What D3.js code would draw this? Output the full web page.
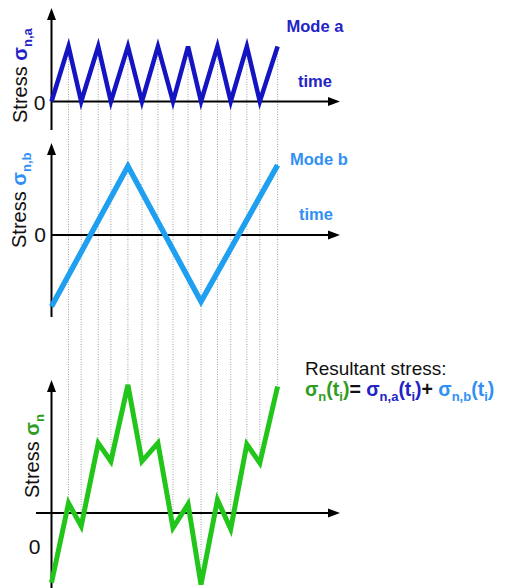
<!DOCTYPE html>
<html>
<head>
<meta charset="utf-8">
<script src="https://cdn.jsdelivr.net/npm/d3@7"></script>
<style>
  html, body { margin: 0; padding: 0; background: #fff; }
  svg { display: block; font-family: Arial, "Liberation Sans", sans-serif; }
</style>
</head>
<body>
<svg id="chart" width="507" height="588"></svg>
<script>
// Sampling instants t_i (turning points of mode a)
const times = [0, 1.13, 1.97, 3.10, 3.94, 5.07, 6.00, 7.06, 8.06, 9.06, 9.92, 11.01, 11.89, 12.96, 13.82, 15.0];
// Mode a: fast triangular stress cycle
const modeA = [0, 1, 0, 1, 0, 1, 0, 1, 0, 1, 0, 1, 0, 1, 0, 1];
// Mode b: slow triangular stress cycle (turning points only)
const modeBTimes = [0, 5.07, 9.92, 15.0];
const modeB = [-1.30, 1.25, -1.21, 1.27];
// Resultant stress at each t_i
const resultant = [-1.27, 0.18, -0.24, 1.27, 0.94, 2.33, 0.94, 1.27, -0.27, 0.16, -1.30, 0.24, -0.29, 1.25, 0.91, 2.30];

const svg = d3.select("#chart");

const x = d3.scaleLinear().domain([0, 19.14]).range([51.5, 340]);
const PX = 55; // pixels per stress unit, shared by all panels

function panelScale(zeroY, topY, bottomY) {
  return d3.scaleLinear()
    .domain([(zeroY - bottomY) / PX, (zeroY - topY) / PX])
    .range([bottomY, topY]);
}
const yA = panelScale(101.5, 8, 130);
const yB = panelScale(235, 143, 317);
const yR = panelScale(513, 380, 588);

// Dotted guides from each mode a turning point down to the resultant
const guides = svg.append("g");
times.forEach((t, i) => {
  if (i === 0) return;
  guides.append("line")
    .attr("x1", x(t)).attr("x2", x(t))
    .attr("y1", yA(modeA[i])).attr("y2", yR(resultant[i]))
    .attr("stroke", "#a0a0a0").attr("stroke-width", 1)
    .attr("stroke-dasharray", "1,1.5");
});

// Axes with arrowheads
function axes(y, xStart) {
  const g = svg.append("g");
  const [d0, d1] = y.domain();
  const xEnd = x.range()[1];
  g.append("line").attr("x1", xStart).attr("x2", xEnd - 9)
    .attr("y1", y(0)).attr("y2", y(0)).attr("stroke", "#000").attr("stroke-width", 2);
  g.append("path")
    .attr("d", `M${xEnd},${y(0)} L${xEnd - 12},${y(0) - 4.5} L${xEnd - 12},${y(0) + 4.5} Z`)
    .attr("fill", "#000");
  const x0 = x(0);
  g.append("line").attr("x1", x0).attr("x2", x0)
    .attr("y1", y(d0)).attr("y2", y(d1) + 9).attr("stroke", "#000").attr("stroke-width", 2);
  g.append("path")
    .attr("d", `M${x0},${y(d1)} L${x0 - 4.5},${y(d1) + 12} L${x0 + 4.5},${y(d1) + 12} Z`)
    .attr("fill", "#000");
}
axes(yA, x(0));
axes(yB, x(0));
axes(yR, x(0) - 15.5);

// Stress curves
const lineA = d3.line().x((d, i) => x(times[i])).y(d => yA(d));
svg.append("path").datum(modeA).attr("d", lineA)
  .attr("fill", "none").attr("stroke", "#1414c2").attr("stroke-width", 4.5)
  .attr("stroke-linejoin", "miter");

const lineB = d3.line().x((d, i) => x(modeBTimes[i])).y(d => yB(d));
svg.append("path").datum(modeB).attr("d", lineB)
  .attr("fill", "none").attr("stroke", "#1e9ff0").attr("stroke-width", 5.5)
  .attr("stroke-linejoin", "miter");

const lineR = d3.line().x((d, i) => x(times[i])).y(d => yR(d));
svg.append("path").datum(resultant).attr("d", lineR)
  .attr("fill", "none").attr("stroke", "#22c61a").attr("stroke-width", 5)
  .attr("stroke-linejoin", "miter");

// Zero labels
function zeroLabel(cx, baseY) {
  svg.append("text").attr("x", cx).attr("y", baseY)
    .attr("text-anchor", "middle").attr("font-size", 21).attr("fill", "#111")
    .text("0");
}
zeroLabel(39.5, 109.5);
zeroLabel(40, 242);
zeroLabel(34.5, 554);

// Rotated y-axis titles
const COL_A = "#2323c6", COL_B = "#3190f5", COL_R = "#2f9c1f";
function yTitle(bx, by, sub, col) {
  const t = svg.append("text")
    .attr("transform", `translate(${bx},${by}) rotate(-90)`)
    .attr("font-size", 20).attr("fill", "#111");
  t.append("tspan").text("Stress ");
  t.append("tspan").attr("fill", col).attr("font-weight", "bold").text("σ");
  t.append("tspan").attr("fill", col).attr("font-weight", "bold")
    .attr("font-size", 13).attr("dy", 5).text(sub);
}
yTitle(27, 123, "n,a", COL_A);
yTitle(26, 248, "n,b", COL_B);
yTitle(39, 498, "n", COL_R);

// Mode captions
function caption(tx, ty, txt, col) {
  svg.append("text").attr("x", tx).attr("y", ty)
    .attr("font-size", 16.5).attr("font-weight", "bold").attr("fill", col).text(txt);
}
caption(286.5, 32, "Mode a", COL_A);
caption(298, 87, "time", COL_A);
caption(290, 165, "Mode b", COL_B);
caption(299, 220, "time", COL_B);

// Resultant equation
svg.append("text").attr("x", 305).attr("y", 374.5)
  .attr("font-size", 19).attr("fill", "#111").text("Resultant stress:");

const eq = svg.append("text").attr("x", 305).attr("y", 396)
  .attr("font-size", 19.5).attr("font-weight", "bold");
function term(col, sub) {
  eq.append("tspan").attr("fill", col).text("σ");
  eq.append("tspan").attr("fill", col).attr("font-size", 13).attr("dy", 5).text(sub);
  eq.append("tspan").attr("fill", col).attr("dy", -5).text("(t");
  eq.append("tspan").attr("fill", col).attr("font-size", 13).attr("dy", 5).text("i");
  eq.append("tspan").attr("fill", col).attr("dy", -5).text(")");
}
term(COL_R, "n");
eq.append("tspan").attr("fill", "#111").text("= ");
term(COL_A, "n,a");
eq.append("tspan").attr("fill", "#111").text("+ ");
term(COL_B, "n,b");
</script>
</body>
</html>
